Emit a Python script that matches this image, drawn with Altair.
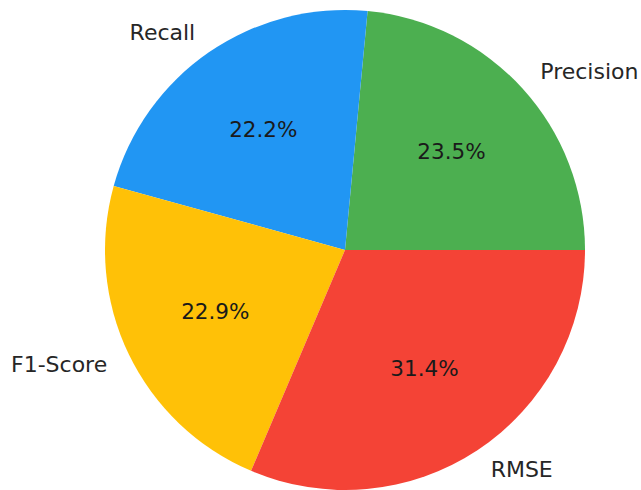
import altair as alt
import pandas as pd

labels = ["Precision", "Recall", "F1-Score", "RMSE"]
values = [23.5, 22.2, 22.9, 31.4]
colors = ["#4CAF50", "#2196F3", "#FFC107", "#F44336"]
# clockwise drawing order starting at 3 o'clock (matplotlib counter-clockwise from 0 deg)
draw_order = [4, 3, 2, 1]

df = pd.DataFrame({"label": labels, "value": values, "order": draw_order})
TOTAL = float(sum(values))

CX, CY, R = 345, 250, 240
PI = 3.141592653589793

tscale = alt.Scale(domain=[0, TOTAL], range=[PI / 2, PI / 2 + 2 * PI])

base = alt.Chart(df).transform_joinaggregate(
    total="sum(value)"
).transform_calculate(
    pct="format(datum.value / datum.total, '.1%')"
).transform_stack(
    stack="value", groupby=[], as_=["v0", "v1"],
    sort=[alt.SortField("order", order="ascending")]
).transform_calculate(
    mid="(datum.v0 + datum.v1) / 2"
)

pie = base.mark_arc(x=CX, y=CY, outerRadius=R).encode(
    theta=alt.Theta("v0:Q", scale=tscale),
    theta2="v1:Q",
    color=alt.Color("label:N", scale=alt.Scale(domain=labels, range=colors), legend=None),
)

mid_theta = alt.Theta("mid:Q", stack=None, scale=tscale)

pct = base.mark_text(x=CX, y=CY, radius=R * 0.6, font="DejaVu Sans", fontSize=21.5,
                     color="#1a1a1a").encode(
    theta=mid_theta, text="pct:N"
)

right_labels = base.transform_filter(
    alt.FieldOneOfPredicate(field="label", oneOf=["Precision", "RMSE"])
).mark_text(x=CX, y=CY, radius=R * 1.1, align="left", baseline="middle",
            font="DejaVu Sans", fontSize=22, color="#262626").encode(
    theta=mid_theta, text="label:N"
)

left_labels = base.transform_filter(
    alt.FieldOneOfPredicate(field="label", oneOf=["Recall", "F1-Score"])
).mark_text(x=CX, y=CY, radius=R * 1.1, align="right", baseline="middle",
            font="DejaVu Sans", fontSize=22, color="#262626").encode(
    theta=mid_theta, text="label:N"
)

chart = alt.layer(pie, pct, right_labels, left_labels).properties(
    width=641, height=490,
    autosize=alt.AutoSizeParams(type="none"),
    padding=0,
).configure_view(stroke=None)

chart.save("out.html", embed_options={"renderer": "svg", "actions": False})
